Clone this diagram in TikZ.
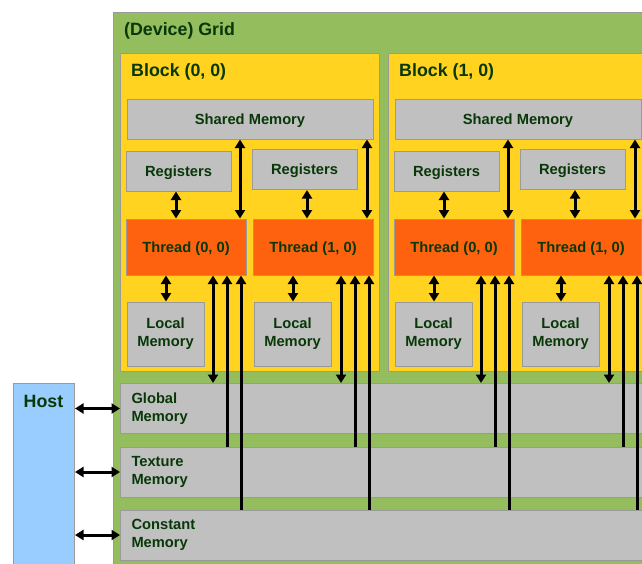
\documentclass[tikz,border=0pt]{standalone}
\usepackage{fontspec}
\setmainfont{Liberation Sans}
\usetikzlibrary{arrows.meta}
\definecolor{gridgreen}{HTML}{94BD5E}
\definecolor{blockyellow}{HTML}{FFD320}
\definecolor{memgray}{HTML}{C0C0C0}
\definecolor{thorange}{HTML}{FF620E}
\definecolor{hostblue}{HTML}{99CCFF}
\definecolor{txt}{HTML}{083808}
\definecolor{edgegray}{HTML}{9A9A9A}
\begin{document}
\begin{tikzpicture}[x=1pt,y=-1pt,
  box/.style={draw=edgegray, line width=1pt, inner sep=0pt, text=txt,
    font=\bfseries\fontsize{14.7}{18}\selectfont, align=center},
  oneline/.style={text height=10.5pt, text depth=0pt},
  mem/.style={box, fill=memgray},
  thr/.style={box, fill=thorange, oneline},
  bigmem/.style={mem, minimum width=540pt, minimum height=50pt, text width=518pt, align=left, inner xsep=11pt, anchor=west},
  ttl/.style={text=txt, font=\bfseries\fontsize{17.8}{20}\selectfont, inner sep=0pt, anchor=west},
  tip/.tip={Triangle[length=8.5pt,width=10pt]},
  bus/.style={line width=3pt},
  dbl/.style={bus, tip-tip},
  upa/.style={bus, -tip}]
\useasboundingbox (0,0) rectangle (642,563);
\clip (0,0) rectangle (642,563);
\fill[white] (0,0) rectangle (642,563);
% grid
\node[box, fill=gridgreen, minimum width=560pt, minimum height=580pt, anchor=north west] (grid) at (113,12) {};
\node[ttl] (gridt) at (124,30.5) {(Device) Grid};
% memories
\node[bigmem] (glob) at (120,408.5) {Global\\Memory};
\node[bigmem] (tex) at (120,472) {Texture\\Memory};
\node[bigmem] (cons) at (120,535) {Constant\\Memory};
% host
\node[box, fill=hostblue, minimum width=61pt, minimum height=200pt, anchor=north west] (host) at (13,383) {};
\node[ttl, anchor=center] (hostt) at (43.5,401) {Host};
\foreach \b/\o in {0/0,1/268}{
  \node[box, fill=blockyellow, minimum width=259pt, minimum height=318pt] (blk\b) at (249.5+\o,212) {};
  \node[ttl] (blkt\b) at (131+\o,72) {Block (\b, 0)};
  \node[mem, oneline, minimum width=246pt, minimum height=40pt] (shm\b) at (250+\o,119) {Shared Memory};
  \node[mem, oneline, minimum width=105pt, minimum height=40pt] (rga\b) at (178.5+\o,171) {Registers};
  \node[mem, oneline, minimum width=105pt, minimum height=40pt] (rgb\b) at (304.5+\o,169.5) {Registers};
  \node[thr, minimum width=120pt, minimum height=56pt] (tha\b) at (186+\o,247) {Thread (0, 0)};
  \node[thr, minimum width=120pt, minimum height=56pt] (thb\b) at (313+\o,247) {Thread (1, 0)};
  \node[mem, minimum width=77pt, minimum height=64pt] (lma\b) at (165.5+\o,334) {Local\\Memory};
  \node[mem, minimum width=77pt, minimum height=64pt] (lmb\b) at (292.5+\o,334) {Local\\Memory};
  % x positions of connectors
  \coordinate (ra\b) at (176+\o,0);
  \coordinate (rb\b) at (307+\o,0);
  \coordinate (sa\b) at (240+\o,0);
  \coordinate (sb\b) at (367+\o,0);
  \coordinate (la\b) at (166+\o,0);
  \coordinate (lb\b) at (293+\o,0);
  \coordinate (ga\b) at (213+\o,0);
  \coordinate (gb\b) at (341+\o,0);
  \coordinate (ta\b) at (227+\o,0);
  \coordinate (tb\b) at (355+\o,0);
  \coordinate (ca\b) at (241+\o,0);
  \coordinate (cb\b) at (369+\o,0);
}
\foreach \b in {0,1}{
  \draw[dbl] (rga\b.south -| ra\b) -- (tha\b.north -| ra\b);
  \draw[dbl] (rgb\b.south -| rb\b) -- (thb\b.north -| rb\b);
  \draw[dbl] (shm\b.south -| sa\b) -- (tha\b.north -| sa\b);
  \draw[dbl] (shm\b.south -| sb\b) -- (thb\b.north -| sb\b);
  \draw[dbl] (tha\b.south -| la\b) -- (lma\b.north -| la\b);
  \draw[dbl] (thb\b.south -| lb\b) -- (lmb\b.north -| lb\b);
  \draw[dbl] (tha\b.south -| ga\b) -- (glob.north -| ga\b);
  \draw[dbl] (thb\b.south -| gb\b) -- (glob.north -| gb\b);
  \draw[upa] (tex.north -| ta\b) -- (tha\b.south -| ta\b);
  \draw[upa] (tex.north -| tb\b) -- (thb\b.south -| tb\b);
  \draw[upa] (cons.north -| ca\b) -- (tha\b.south -| ca\b);
  \draw[upa] (cons.north -| cb\b) -- (thb\b.south -| cb\b);
}
\draw[dbl] (host.east |- glob.west) -- (glob.west);
\draw[dbl] (host.east |- tex.west) -- (tex.west);
\draw[dbl] (host.east |- cons.west) -- (cons.west);
\end{tikzpicture}
\end{document}
